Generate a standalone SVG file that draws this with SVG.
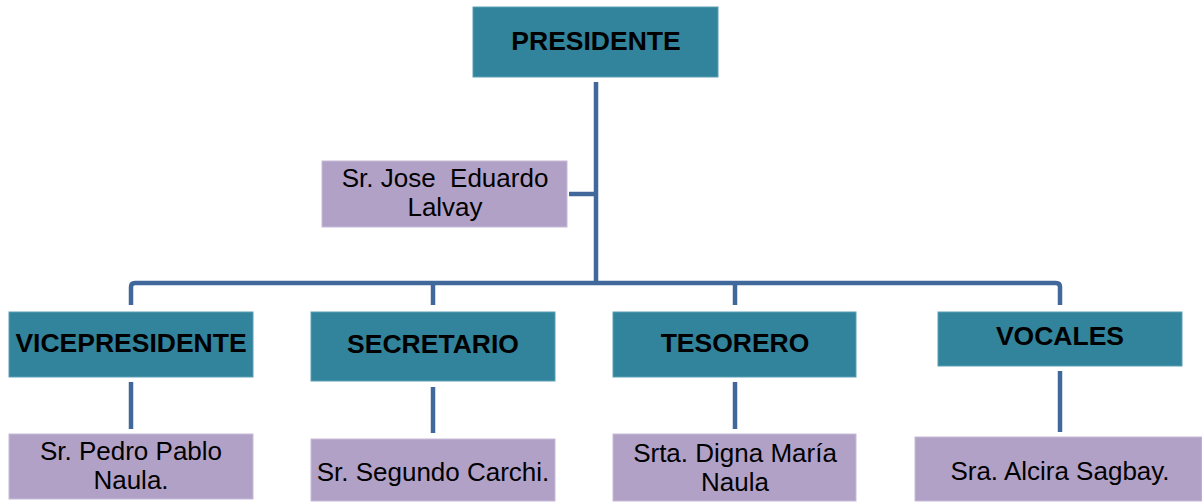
<svg xmlns="http://www.w3.org/2000/svg" width="1202" height="503" viewBox="0 0 1202 503">
<style>
.role{fill:#31849B;stroke:#5aa0b4;stroke-width:1}
.name{fill:#B2A1C7;stroke:#c7bad8;stroke-width:1}
.rt{font-family:"Liberation Sans",Arial,sans-serif;font-weight:bold;font-size:26.5px;fill:#000;text-anchor:middle}
.nt{font-family:"Liberation Sans",Arial,sans-serif;font-size:26px;fill:#000;text-anchor:middle}
.ln{stroke:#41689A;fill:none;stroke-width:4.5}
</style>
<rect width="1202" height="503" fill="#fff"/>
<g id="connectors">
<line class="ln" x1="596" y1="82" x2="596" y2="283" stroke-width="5"/>
<line class="ln" x1="569" y1="194" x2="596" y2="194"/>
<path class="ln" d="M131,305 V287 Q131,283 135,283 H1056 Q1060,283 1060,287 V305"/>
<line class="ln" x1="433" y1="283" x2="433" y2="305"/>
<line class="ln" x1="735" y1="283" x2="735" y2="305"/>
<line class="ln" x1="131" y1="382" x2="131" y2="429"/>
<line class="ln" x1="433" y1="387" x2="433" y2="433"/>
<line class="ln" x1="735" y1="382" x2="735" y2="429"/>
<line class="ln" x1="1060" y1="371" x2="1060" y2="432"/>
</g>
<g id="presidente">
<rect class="role" x="473" y="7" width="245" height="70"/>
<text class="rt" x="596" y="50">PRESIDENTE</text>
</g>
<g id="jose">
<rect class="name" x="322" y="161" width="245" height="66"/>
<text class="nt" x="445" y="187" xml:space="preserve">Sr. Jose  Eduardo</text>
<text class="nt" x="445" y="216">Lalvay</text>
</g>
<g id="vicepresidente">
<rect class="role" x="9" y="312" width="244" height="65"/>
<text class="rt" x="131" y="352">VICEPRESIDENTE</text>
</g>
<g id="secretario">
<rect class="role" x="311" y="312" width="244" height="69"/>
<text class="rt" x="433" y="353">SECRETARIO</text>
</g>
<g id="tesorero">
<rect class="role" x="613" y="312" width="243" height="65"/>
<text class="rt" x="735" y="352">TESORERO</text>
</g>
<g id="vocales">
<rect class="role" x="938" y="312" width="244" height="54"/>
<text class="rt" x="1060" y="345">VOCALES</text>
</g>
<g id="pedro">
<rect class="name" x="9" y="434" width="244" height="65"/>
<text class="nt" x="131" y="460">Sr. Pedro Pablo</text>
<text class="nt" x="131" y="489">Naula.</text>
</g>
<g id="segundo">
<rect class="name" x="311" y="439" width="244" height="62"/>
<text class="nt" x="433" y="481">Sr. Segundo Carchi.</text>
</g>
<g id="digna">
<rect class="name" x="613" y="434" width="243" height="67"/>
<text class="nt" x="735" y="462">Srta. Digna María</text>
<text class="nt" x="735" y="491">Naula</text>
</g>
<g id="alcira">
<rect class="name" x="915" y="437" width="287" height="64"/>
<text class="nt" x="1060" y="480">Sra. Alcira Sagbay.</text>
</g>
</svg>
